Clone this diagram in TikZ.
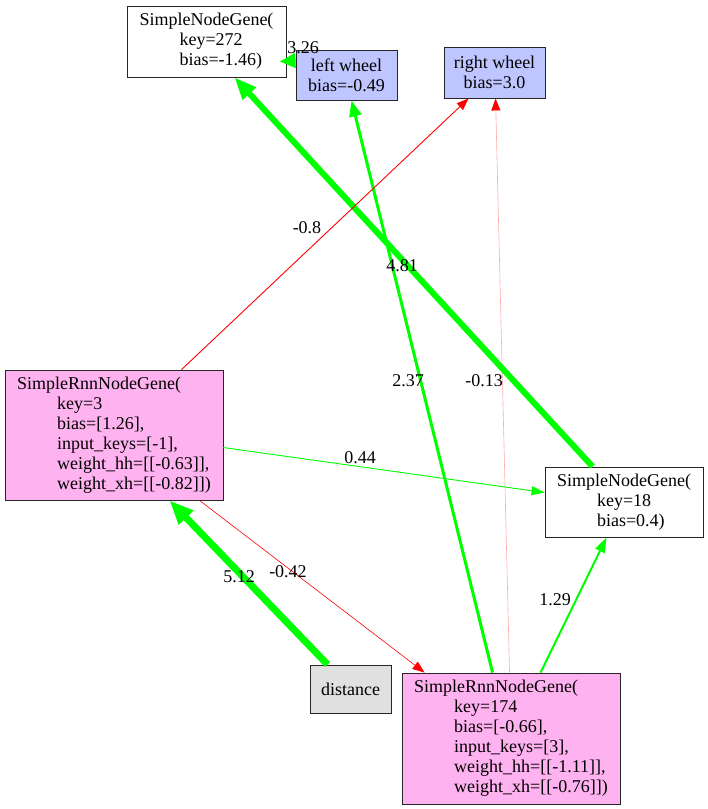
\documentclass[tikz,border=0pt]{standalone}
\usepackage{fontspec}
\setmainfont{Liberation Serif}
\usetikzlibrary{arrows.meta,calc}
\definecolor{rnnfill}{RGB}{255,178,240}
\definecolor{iofill}{RGB}{191,197,255}
\definecolor{infill}{RGB}{224,224,224}
\definecolor{egreen}{RGB}{0,255,0}
\definecolor{ered}{RGB}{255,0,0}
\definecolor{epink}{RGB}{255,170,170}
\newcommand{\ind}{\hspace*{40pt}}
\begin{document}
\begin{tikzpicture}[x=1pt,y=-1pt,
  gene/.style={draw=black!85, line width=0.9pt, inner sep=0pt, align=left,
    font=\fontsize{18}{20}\selectfont},
  iobox/.style={gene, fill=iofill, align=center},
  rnnbox/.style={gene, fill=rnnfill},
  inbox/.style={gene, fill=infill, align=center},
  wlabel/.style={inner sep=0pt, font=\fontsize{18}{20}\selectfont},
  pos/.style={draw=egreen, line width=#1},
  neg/.style={draw=ered, line width=#1},
]
\useasboundingbox (0,0) rectangle (708,809);

% nodes
\node[gene, minimum width=159pt, minimum height=71pt] (n272) at (206.5,41.5)
  {SimpleNodeGene(\\\ind key=272\\\ind bias=-1.46)};
\node[iobox, minimum width=101pt, minimum height=50pt] (lw) at (346.5,75)
  {left wheel\\bias=-0.49};
\node[iobox, minimum width=101pt, minimum height=51pt] (rw) at (494.5,72.5)
  {right wheel\\bias=3.0};
\node[rnnbox, minimum width=218pt, minimum height=130pt] (rnn3) at (114,435)
  {SimpleRnnNodeGene(\\\ind key=3\\\ind bias=[1.26],\\\ind input\_keys=[-1],\\\ind weight\_hh=[[-0.63]],\\\ind weight\_xh=[[-0.82]])};
\node[gene, minimum width=158pt, minimum height=70pt] (n18) at (624,502)
  {SimpleNodeGene(\\\ind key=18\\\ind bias=0.4)};
\node[inbox, minimum width=81pt, minimum height=48pt] (dist) at (350.5,689)
  {distance};
\node[rnnbox, minimum width=218pt, minimum height=131pt] (rnn174) at (511,738.5)
  {SimpleRnnNodeGene(\\\ind key=174\\\ind bias=[-0.66],\\\ind input\_keys=[3],\\\ind weight\_hh=[[-1.11]],\\\ind weight\_xh=[[-0.76]])};

% connection points on the borders
\coordinate (a1) at ($(rnn174.north west)+(91,0)$);
\coordinate (a2) at ($(rnn174.north west)+(108,0)$);
\coordinate (a3) at ($(rnn174.north west)+(139,0)$);
\coordinate (a4) at ($(rnn174.north west)+(23,0)$);
\coordinate (b1) at ($(lw.south west)+(56,0)$);
\coordinate (b2) at ($(lw.north west)+(0,11)$);
\coordinate (c1) at ($(rw.south west)+(52,0)$);
\coordinate (c2) at ($(rw.south west)+(25,0)$);
\coordinate (d1) at ($(n18.south west)+(62,0)$);
\coordinate (d2) at ($(n18.north west)+(48,0)$);
\coordinate (d3) at ($(n18.north west)+(0,26)$);
\coordinate (e1) at ($(n272.south west)+(108,0)$);
\coordinate (e2) at ($(n272.north east)+(-7,56)$);
\coordinate (f1) at ($(rnn3.north west)+(177,0)$);
\coordinate (f2) at ($(rnn3.north east)+(0,78)$);
\coordinate (f3) at ($(rnn3.south west)+(195,0)$);
\coordinate (f4) at ($(rnn3.south west)+(165,0)$);
\coordinate (g1) at ($(dist.north west)+(18,0)$);

% connections
\draw[pos=3pt, -{Triangle[length=16pt,width=12pt]}] (a1) -- (b1);
\draw[draw=epink, line width=0.6pt, -{Triangle[length=12pt,width=9pt,color=ered]}] (a2) -- (c1);
\draw[pos=2pt, -{Triangle[length=15pt,width=10pt]}] (a3) -- (d1);
\draw[pos=6pt, -{Triangle[length=22pt,width=17pt]}] (d2) -- (e1);
\draw[neg=0.9pt, -{Triangle[length=12pt,width=9pt]}] (f1) -- (c2);
\draw[pos=0.9pt, -{Triangle[length=13pt,width=9pt]}] (f2) -- (d3);
\draw[neg=0.6pt, -{Triangle[length=12pt,width=9pt]}] (f3) -- (a4);
\draw[pos=7pt, -{Triangle[length=24pt,width=19pt]}] (g1) -- (f4);
\draw[pos=4pt, -{Triangle[length=16pt,width=14pt]}] (b2) -- (e2);

% weights
\node[wlabel] (l326) at (303,48) {3.26};
\node[wlabel] (l08) at (307,228) {-0.8};
\node[wlabel] (l481) at (402,266) {4.81};
\node[wlabel] (l237) at (408,381) {2.37};
\node[wlabel] (l013) at (484,381) {-0.13};
\node[wlabel] (l044) at (360,458) {0.44};
\node[wlabel] (l129) at (555,600) {1.29};
\node[wlabel] (l512) at (239,577) {5.12};
\node[wlabel] (l042) at (288,572) {-0.42};
\end{tikzpicture}
\end{document}
